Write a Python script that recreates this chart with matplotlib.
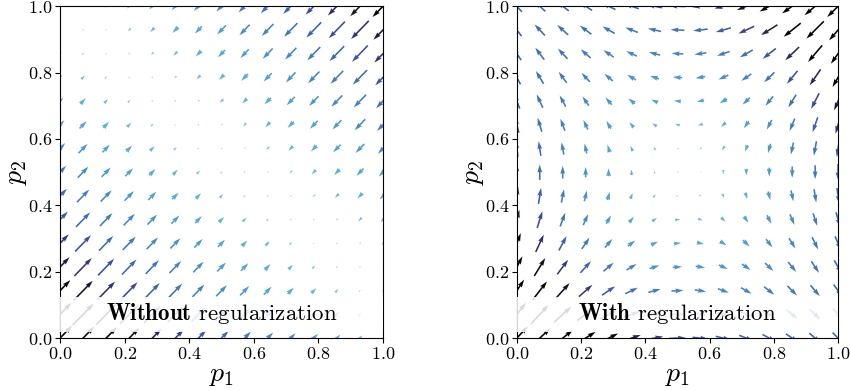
import matplotlib
matplotlib.use("Agg")
import matplotlib.pyplot as plt
import matplotlib.patches as patches
from matplotlib.colors import LinearSegmentedColormap, Normalize
import numpy as np

plt.rcParams['font.family'] = 'cmr10'
plt.rcParams['mathtext.fontset'] = 'cm'
plt.rcParams['axes.formatter.use_mathtext'] = True

# grid of arrow positions (15 x 15 on the unit square)
p_grid = np.linspace(0, 1, 15)

# Without regularization: the field points along the diagonal, u = v
# values in thousandths, rows from p2 = 0 (bottom) to p2 = 1 (top)
left_uv = [
    [75, 70, 66, 62, 57, 52, 48, 44, 39, 34, 30, 26, 21, 16, 12],
    [70, 65, 61, 56, 52, 47, 43, 38, 34, 29, 25, 20, 16, 11, 6],
    [64, 60, 55, 51, 46, 42, 37, 33, 28, 24, 19, 15, 10, 5, 1],
    [59, 54, 50, 45, 41, 36, 32, 27, 23, 18, 14, 9, 5, 0, -4],
    [54, 49, 44, 40, 35, 31, 26, 22, 17, 13, 8, 4, -1, -5, -10],
    [48, 44, 39, 35, 30, 25, 21, 16, 12, 7, 3, -2, -6, -11, -15],
    [43, 38, 34, 29, 25, 20, 16, 11, 6, 2, -3, -7, -12, -16, -21],
    [38, 33, 28, 24, 19, 15, 10, 6, 1, -4, -8, -13, -17, -22, -26],
    [32, 28, 23, 18, 14, 9, 5, 0, -4, -9, -14, -18, -23, -27, -32],
    [27, 22, 18, 13, 8, 4, -1, -5, -10, -15, -19, -24, -28, -33, -37],
    [21, 17, 12, 8, 3, -2, -6, -11, -15, -20, -25, -29, -34, -38, -43],
    [16, 11, 7, 2, -2, -7, -12, -16, -21, -25, -30, -35, -39, -44, -48],
    [11, 6, 1, -3, -8, -12, -17, -22, -26, -31, -35, -40, -45, -49, -54],
    [5, 1, -4, -9, -13, -18, -22, -27, -32, -36, -41, -46, -50, -55, -59],
    [0, -5, -9, -14, -19, -23, -28, -32, -37, -42, -46, -51, -56, -60, -65],
]

# With regularization (thousandths), rows from p2 = 0 to p2 = 1
right_u = [
    [70, 67, 64, 62, 59, 57, 54, 52, 49, 47, 44, 42, 39, 36, 34],
    [57, 55, 54, 52, 50, 48, 46, 44, 42, 40, 39, 37, 35, 33, 31],
    [46, 45, 43, 42, 41, 39, 38, 37, 35, 34, 33, 32, 30, 29, 28],
    [35, 34, 34, 33, 32, 31, 30, 29, 29, 28, 27, 26, 25, 24, 24],
    [25, 25, 24, 24, 23, 23, 22, 22, 22, 21, 21, 20, 20, 19, 19],
    [16, 16, 16, 15, 15, 15, 15, 15, 14, 14, 14, 14, 14, 13, 13],
    [8, 8, 8, 8, 7, 7, 7, 7, 7, 7, 7, 7, 7, 7, 7],
    [0, 0, 0, 0, 0, 0, 0, 0, 0, 0, 0, 0, 0, 0, 0],
    [-7, -7, -7, -7, -7, -7, -7, -7, -7, -7, -7, -8, -8, -8, -8],
    [-13, -13, -14, -14, -14, -14, -14, -15, -15, -15, -15, -15, -16, -16, -16],
    [-18, -19, -19, -20, -20, -21, -21, -22, -22, -23, -23, -24, -24, -25, -25],
    [-23, -24, -25, -26, -26, -27, -28, -29, -30, -31, -31, -32, -33, -34, -35],
    [-27, -28, -30, -31, -32, -33, -35, -36, -37, -39, -40, -41, -43, -44, -45],
    [-30, -32, -34, -36, -38, -39, -41, -43, -45, -47, -49, -51, -53, -54, -56],
    [-32, -35, -38, -40, -43, -45, -48, -50, -53, -55, -58, -60, -63, -66, -68],
]
right_v = [
    [72, 60, 49, 38, 28, 19, 10, 2, -5, -11, -17, -22, -26, -30, -33],
    [70, 58, 47, 37, 27, 18, 10, 2, -5, -12, -18, -23, -28, -31, -35],
    [67, 56, 46, 36, 27, 18, 10, 2, -5, -12, -18, -24, -29, -33, -37],
    [64, 54, 44, 35, 26, 18, 10, 2, -5, -12, -18, -24, -30, -35, -40],
    [61, 52, 43, 34, 26, 17, 10, 2, -5, -12, -19, -25, -31, -37, -42],
    [59, 50, 41, 33, 25, 17, 10, 2, -5, -12, -19, -26, -32, -38, -44],
    [56, 48, 40, 32, 25, 17, 9, 2, -5, -12, -19, -26, -33, -40, -47],
    [53, 46, 38, 31, 24, 17, 9, 2, -5, -13, -20, -27, -34, -42, -49],
    [50, 44, 37, 30, 23, 16, 9, 2, -5, -13, -20, -28, -36, -43, -51],
    [48, 42, 36, 29, 23, 16, 9, 2, -5, -13, -21, -29, -37, -45, -54],
    [45, 40, 34, 28, 22, 16, 9, 2, -5, -13, -21, -29, -38, -47, -56],
    [42, 38, 33, 27, 22, 16, 9, 2, -5, -13, -21, -30, -39, -48, -58],
    [39, 36, 31, 26, 21, 15, 9, 2, -5, -13, -22, -31, -40, -50, -61],
    [37, 33, 30, 26, 21, 15, 9, 2, -5, -13, -22, -31, -41, -52, -63],
    [34, 31, 28, 25, 20, 15, 9, 2, -5, -14, -23, -32, -43, -54, -65],
]

tick_vals = [0.0, 0.2, 0.4, 0.6, 0.8, 1.0]

arrow_cmap = LinearSegmentedColormap.from_list("arrows", [
    (0.0, "#b4e0ee"), (0.2, "#66bcd8"), (0.45, "#4a98cf"), (0.7, "#3d6cb8"),
    (0.8, "#3b4a9c"), (0.88, "#2d2d6e"), (0.95, "#151530"), (1.0, "#050508")])


def draw_field(ax, u, v, vmax, bold, rest):
    X, Y = np.meshgrid(p_grid, p_grid)
    U = np.array(u) / 1000.0
    V = np.array(v) / 1000.0
    M = np.hypot(U, V) * 1000
    ax.quiver(X, Y, U, V, M, cmap=arrow_cmap, norm=Normalize(0, vmax, clip=True),
              angles='xy', scale_units='xy', scale=1, pivot='mid',
              width=0.005, zorder=2)
    ax.add_patch(patches.Rectangle((0, 0.018), 1, 0.107, transform=ax.transAxes,
                                   facecolor='white', edgecolor='none', alpha=0.85, zorder=3))
    ax.text(0.5, 0.074, r"$\mathbf{%s}$ %s" % (bold, rest), transform=ax.transAxes,
            ha='center', va='center', fontsize=16.5, zorder=4)
    ax.set_xlim(0, 1)
    ax.set_ylim(0, 1)
    ax.set_xticks(tick_vals)
    ax.set_yticks(tick_vals)
    ax.tick_params(labelsize=13, pad=2)
    ax.set_xlabel(r"$p_1$", fontsize=20)
    ax.set_ylabel(r"$p_2$", fontsize=20)
    ax.xaxis.set_label_coords(0.5, -0.07)
    ax.yaxis.set_label_coords(-0.095, 0.5)


fig = plt.figure(figsize=(8.5, 3.9), dpi=100)
ax1 = fig.add_axes([0.0706, 0.133, 0.38, 0.851])
ax2 = fig.add_axes([0.608, 0.133, 0.378, 0.851])

draw_field(ax1, left_uv, left_uv, 90, "Without", "regularization")
draw_field(ax2, right_u, right_v, 66, "With", "regularization")

fig.savefig("out.png", dpi=100)
